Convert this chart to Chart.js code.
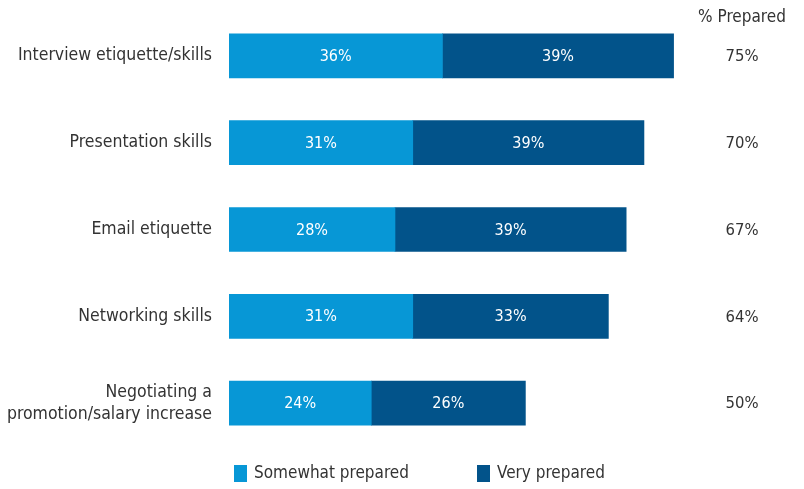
<!DOCTYPE html>
<html lang="en">
<head>
    <meta charset="UTF-8">
    <title>% Prepared</title>
    <style>
        body { margin: 0; background: #fff; }
        .wrap { width: 804px; height: 489px; position: relative; }
    </style>
    <script src="https://cdn.jsdelivr.net/npm/chart.js"></script>
</head>
<body>
    <div class="wrap">
        <canvas id="preparedChart"></canvas>
    </div>
    <script>
        const skills = [
            "Interview etiquette/skills",
            "Presentation skills",
            "Email etiquette",
            "Networking skills",
            ["Negotiating a", "promotion/salary increase"]
        ];
        const somewhat = [36, 31, 28, 31, 24];
        const very = [39, 39, 39, 33, 26];
        const totals = somewhat.map((v, i) => v + very[i]);

        const FONT = "'DejaVu Sans Condensed', 'Liberation Sans Narrow', sans-serif";
        const TEXT = "#333333";

        // white % inside each segment, totals column, and the legend row
        const valueLabels = {
            id: "valueLabels",
            afterDatasetsDraw(chart) {
                const ctx = chart.ctx;
                ctx.save();
                ctx.textAlign = "center";
                ctx.textBaseline = "middle";
                ctx.font = "16px " + FONT;
                ctx.fillStyle = "#ffffff";
                chart.data.datasets.forEach((ds, di) => {
                    chart.getDatasetMeta(di).data.forEach((bar, i) => {
                        ctx.fillText(ds.data[i] + "%", (bar.base + bar.x) / 2, bar.y + 1);
                    });
                });
                ctx.fillStyle = TEXT;
                ctx.font = "16.5px " + FONT;
                chart.getDatasetMeta(0).data.forEach((bar, i) => {
                    ctx.fillText(totals[i] + "%", 742, bar.y + 1);
                });
                ctx.font = "17px " + FONT;
                ctx.fillText("% Prepared", 742, 18);

                // legend
                const legendX = [234, 477];
                ctx.textAlign = "left";
                ctx.font = "17px " + FONT;
                chart.data.datasets.forEach((ds, di) => {
                    ctx.fillStyle = ds.backgroundColor;
                    ctx.fillRect(legendX[di], 465, 13, 17);
                    ctx.fillStyle = TEXT;
                    ctx.fillText(ds.label, legendX[di] + 20, 474);
                });
                ctx.restore();
            }
        };

        new Chart(document.getElementById("preparedChart"), {
            type: "bar",
            data: {
                labels: skills,
                datasets: [
                    {
                        label: "Somewhat prepared",
                        data: somewhat,
                        backgroundColor: "#0797d6",
                        barThickness: 44
                    },
                    {
                        label: "Very prepared",
                        data: very,
                        backgroundColor: "#02538a",
                        barThickness: 44
                    }
                ]
            },
            options: {
                indexAxis: "y",
                responsive: true,
                maintainAspectRatio: false,
                animation: false,
                layout: { padding: { left: 0, right: 0, top: 12.5, bottom: 42.5 } },
                plugins: {
                    tooltip: { enabled: false },
                    legend: { display: false }
                },
                scales: {
                    x: {
                        stacked: true,
                        display: false,
                        min: 0,
                        max: 97
                    },
                    y: {
                        stacked: true,
                        grid: { display: false },
                        border: { display: false },
                        ticks: {
                            color: TEXT,
                            font: { family: FONT, size: 17.5, lineHeight: 1.25 },
                            padding: 9
                        },
                        afterFit(scale) {
                            scale.width = 229;
                            scale.paddingTop = 0;
                            scale.paddingBottom = 0;
                        }
                    }
                }
            },
            plugins: [valueLabels]
        });
    </script>
</body>
</html>
